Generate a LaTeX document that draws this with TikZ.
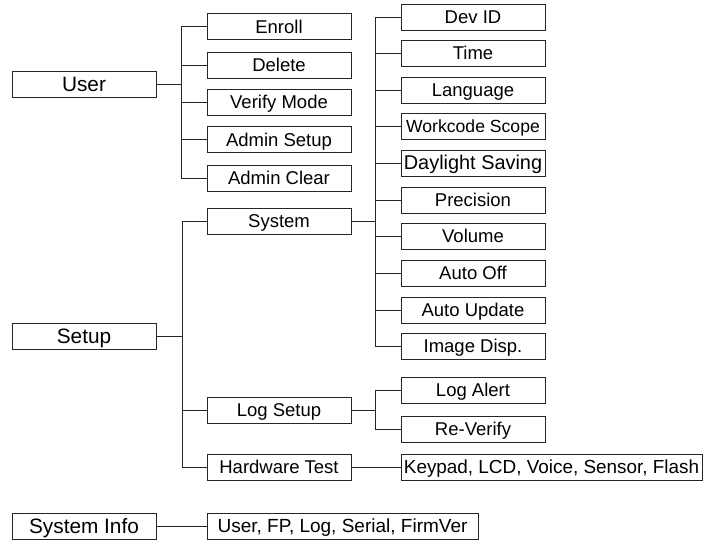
\documentclass[tikz,border=0pt]{standalone}
\usepackage{fontspec}
\setmainfont{Liberation Sans}
\begin{document}
\begin{tikzpicture}[x=1pt,y=-1pt,
  box/.style={draw=black!85, line width=1pt, inner sep=0pt, minimum height=26pt, minimum width=144pt,
    text height=14pt, text depth=1pt, font=\fontsize{18.5}{20}\selectfont},
  topbox/.style={box, text height=15pt, text depth=1pt, font=\fontsize{20.8}{22}\selectfont},
  link/.style={draw=black!85, line width=1pt}]
\useasboundingbox (0,0) rectangle (706,542);
% level 1
\node[topbox] (user) at (84,84) {User};
\node[topbox] (setup) at (84,336) {Setup};
\node[topbox] (sysinfo) at (84,526) {System Info};
% level 2
\node[box] (enroll) at (279,26.5) {Enroll};
\node[box] (delete) at (279,65) {Delete};
\node[box] (verify) at (279,102) {Verify Mode};
\node[box] (asetup) at (279,139.5) {Admin Setup};
\node[box] (aclear) at (279,178) {Admin Clear};
\node[box] (system) at (279,221) {System};
\node[box] (logsetup) at (279,410) {Log Setup};
\node[box] (hwtest) at (279,467) {Hardware Test};
\node[box, minimum width=271pt, font=\fontsize{19}{21}\selectfont] (info) at (342.5,526) {User, FP, Log, Serial, FirmVer};
% level 3
\node[box] (devid) at (473,17) {Dev ID};
\node[box] (time) at (473,53) {Time};
\node[box] (lang) at (473,90) {Language};
\node[box, font=\fontsize{17.6}{19}\selectfont] (wcs) at (473,126) {Workcode Scope};
\node[box, font=\fontsize{19.9}{21}\selectfont] (dls) at (473,163) {Daylight Saving};
\node[box] (prec) at (473,200) {Precision};
\node[box] (vol) at (473,236) {Volume};
\node[box] (aoff) at (473,273) {Auto Off};
\node[box] (aupd) at (473,310) {Auto Update};
\node[box] (img) at (473,346) {Image Disp.};
\node[box] (lalert) at (473,390) {Log Alert};
\node[box] (rever) at (473,429) {Re-Verify};
\node[box, minimum width=301pt, font=\fontsize{18.9}{20}\selectfont] (keypad) at (551.5,467) {Keypad, LCD, Voice, Sensor, Flash};
% trunk coordinates
\coordinate (tu) at (181,0);
\coordinate (ts) at (182,0);
\coordinate (tsys) at (375,0);
\coordinate (tlog) at (375,0);
% User branches
\foreach \c in {enroll,delete,verify,asetup,aclear}
  \draw[link] (user.east) -- (user.east -| tu) |- (\c.west);
% Setup branches
\foreach \c in {system,logsetup,hwtest}
  \draw[link] (setup.east) -- (setup.east -| ts) |- (\c.west);
% System branches
\foreach \c in {devid,time,lang,wcs,dls,prec,vol,aoff,aupd,img}
  \draw[link] (system.east) -- (system.east -| tsys) |- (\c.west);
% Log setup branches
\foreach \c in {lalert,rever}
  \draw[link] (logsetup.east) -- (logsetup.east -| tlog) |- (\c.west);
% straight links
\draw[link] (hwtest.east) -- (keypad.west);
\draw[link] (sysinfo.east) -- (info.west);
\end{tikzpicture}
\end{document}
